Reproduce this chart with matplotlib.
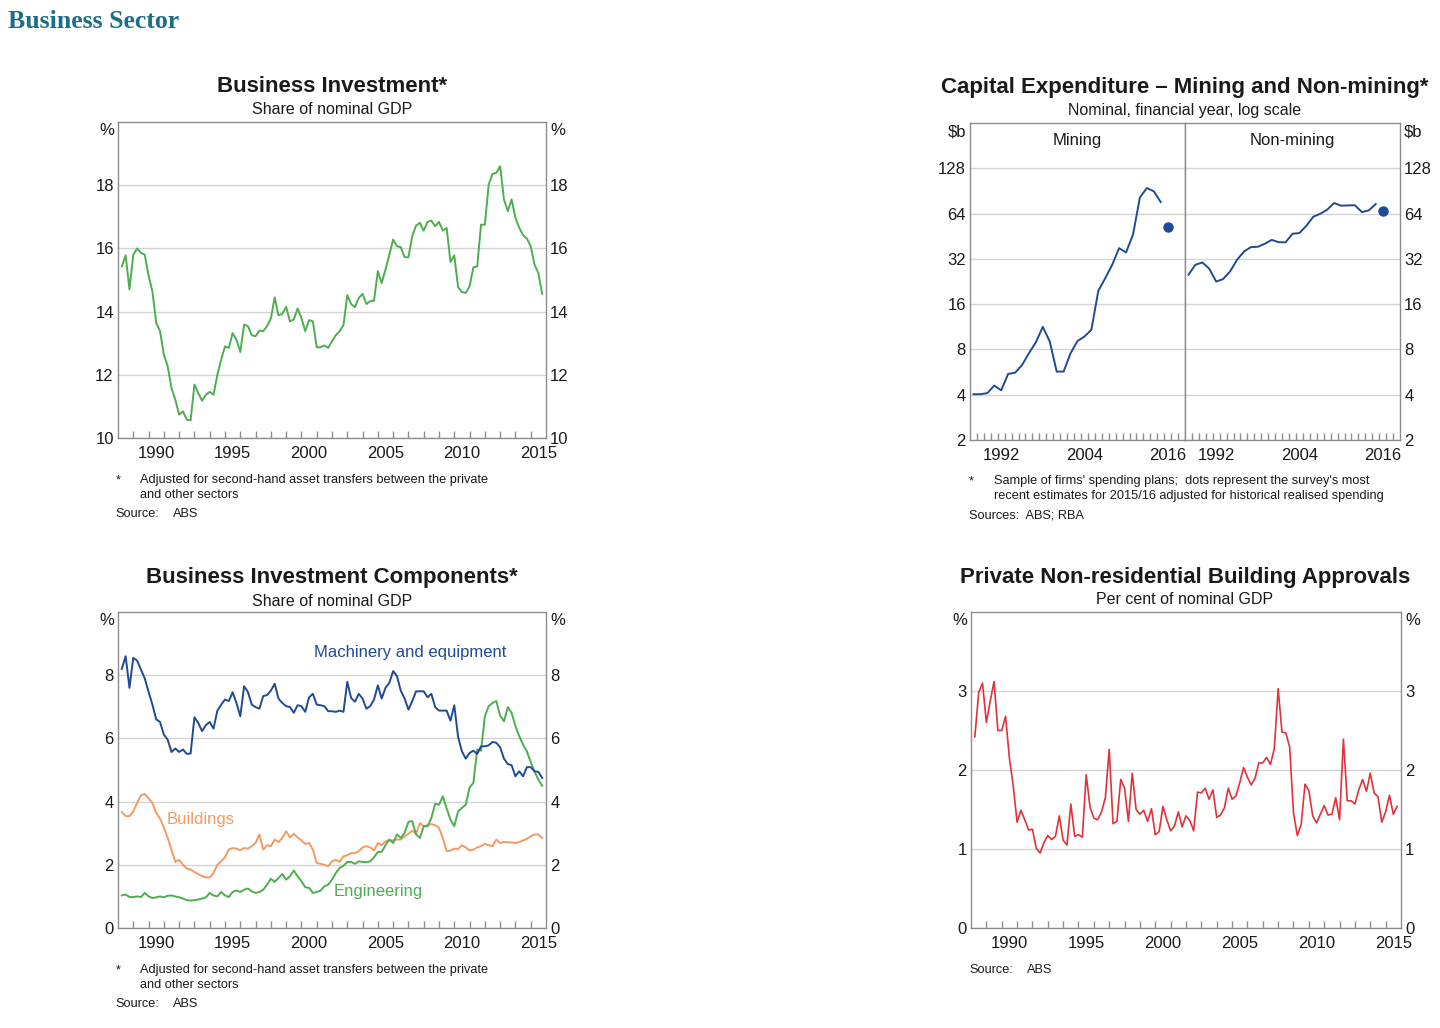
import numpy as np
import pandas as pd
import matplotlib
matplotlib.use("Agg")
import matplotlib.pyplot as plt
from matplotlib.ticker import FixedLocator, NullFormatter

plt.rcParams['font.family'] = ['Liberation Sans', 'DejaVu Sans']

# quarterly series, 1988Q1 - 2015Q3
quarters = pd.period_range('1988Q1', '2015Q3', freq='Q')

invest_share = [15.43, 15.78, 14.7, 15.8, 16.0, 15.86, 15.8, 15.14, 14.64, 13.64,
                13.38, 12.64, 12.27, 11.58, 11.21, 10.74, 10.84, 10.58, 10.56, 11.69,
                11.42, 11.18, 11.37, 11.46, 11.37, 12.0, 12.48, 12.9, 12.85, 13.32,
                13.11, 12.72, 13.59, 13.54, 13.25, 13.22, 13.4, 13.38, 13.54, 13.78,
                14.45, 13.88, 13.93, 14.15, 13.69, 13.75, 14.1, 13.8, 13.38, 13.73,
                13.69, 12.87, 12.87, 12.93, 12.85, 13.06, 13.25, 13.38, 13.57, 14.52,
                14.24, 14.14, 14.43, 14.56, 14.24, 14.33, 14.35, 15.28, 14.9, 15.33,
                15.8, 16.28, 16.07, 16.04, 15.72, 15.72, 16.39, 16.72, 16.81, 16.56,
                16.84, 16.88, 16.7, 16.84, 16.56, 16.65, 15.57, 15.78, 14.77, 14.62,
                14.59, 14.8, 15.4, 15.43, 16.75, 16.75, 18.02, 18.36, 18.39, 18.6,
                17.55, 17.18, 17.55, 16.97, 16.65, 16.42, 16.31, 16.07, 15.49, 15.22,
                14.56]

machinery = [8.2, 8.6, 7.6, 8.55, 8.46, 8.18, 7.9, 7.47, 7.07, 6.6,
             6.52, 6.12, 5.96, 5.57, 5.68, 5.57, 5.65, 5.51, 5.52, 6.67,
             6.49, 6.23, 6.42, 6.52, 6.31, 6.88, 7.07, 7.23, 7.18, 7.46,
             7.12, 6.7, 7.65, 7.47, 7.07, 6.99, 6.94, 7.34, 7.37, 7.51,
             7.73, 7.26, 7.12, 7.02, 6.99, 6.81, 7.05, 7.02, 6.84, 7.3,
             7.41, 7.07, 7.05, 7.02, 6.86, 6.86, 6.84, 6.88, 6.84, 7.79,
             7.28, 7.16, 7.41, 7.26, 6.94, 7.02, 7.23, 7.68, 7.26, 7.6,
             7.76, 8.13, 7.97, 7.51, 7.26, 6.91, 7.18, 7.49, 7.49, 7.49,
             7.3, 7.41, 6.99, 6.88, 6.88, 6.88, 6.56, 7.05, 6.04, 5.59,
             5.36, 5.54, 5.61, 5.51, 5.75, 5.75, 5.78, 5.89, 5.86, 5.72,
             5.36, 5.19, 5.15, 4.8, 4.96, 4.8, 5.09, 5.09, 4.96, 4.94,
             4.75]

buildings = [3.67, 3.54, 3.54, 3.69, 3.96, 4.2, 4.24, 4.1, 3.96, 3.64,
             3.46, 3.19, 2.85, 2.48, 2.09, 2.16, 2.0, 1.88, 1.85, 1.77,
             1.71, 1.64, 1.6, 1.6, 1.74, 2.0, 2.11, 2.24, 2.48, 2.53,
             2.51, 2.46, 2.53, 2.51, 2.59, 2.69, 2.96, 2.48, 2.62, 2.59,
             2.8, 2.72, 2.85, 3.06, 2.87, 2.98, 2.87, 2.77, 2.66, 2.69,
             2.48, 2.06, 2.03, 2.0, 1.95, 2.11, 2.16, 2.09, 2.27, 2.3,
             2.37, 2.37, 2.43, 2.55, 2.59, 2.55, 2.45, 2.69, 2.62, 2.74,
             2.78, 2.77, 2.8, 2.8, 2.9, 2.98, 3.08, 2.98, 3.32, 3.22,
             3.25, 3.29, 3.25, 3.17, 2.85, 2.43, 2.45, 2.51, 2.5, 2.62,
             2.55, 2.45, 2.48, 2.55, 2.59, 2.66, 2.62, 2.59, 2.8, 2.69,
             2.72, 2.71, 2.71, 2.69, 2.72, 2.77, 2.82, 2.9, 2.96, 2.96,
             2.85]

engineering = [1.03, 1.06, 0.98, 0.98, 1.0, 0.98, 1.11, 1.0, 0.95, 0.97,
               1.0, 0.97, 1.02, 1.03, 1.0, 0.97, 0.93, 0.88, 0.87, 0.88,
               0.9, 0.93, 0.97, 1.11, 1.03, 1.0, 1.14, 1.03, 0.98, 1.14,
               1.19, 1.14, 1.21, 1.25, 1.16, 1.11, 1.14, 1.21, 1.37, 1.56,
               1.46, 1.58, 1.71, 1.53, 1.64, 1.82, 1.64, 1.48, 1.29, 1.27,
               1.11, 1.14, 1.18, 1.32, 1.37, 1.53, 1.74, 1.9, 1.97, 2.09,
               2.09, 2.03, 2.11, 2.09, 2.08, 2.11, 2.24, 2.41, 2.41, 2.62,
               2.8, 2.69, 2.96, 2.85, 3.01, 3.36, 3.38, 2.96, 2.85, 3.22,
               3.22, 3.48, 3.93, 3.9, 4.17, 3.78, 3.43, 3.22, 3.69, 3.8,
               3.9, 4.45, 4.59, 5.65, 5.61, 6.7, 7.02, 7.12, 7.18, 6.72,
               6.54, 6.99, 6.81, 6.39, 6.07, 5.8, 5.59, 5.25, 4.95, 4.7,
               4.5]

approvals = [2.42, 2.98, 3.1, 2.6, 2.87, 3.12, 2.5, 2.5, 2.68, 2.15,
             1.8, 1.34, 1.49, 1.37, 1.24, 1.25, 1.01, 0.95, 1.08, 1.17,
             1.12, 1.16, 1.42, 1.11, 1.05, 1.57, 1.16, 1.18, 1.15, 1.94,
             1.53, 1.39, 1.37, 1.47, 1.65, 2.26, 1.32, 1.35, 1.88, 1.77,
             1.35, 1.96, 1.5, 1.44, 1.49, 1.35, 1.51, 1.18, 1.22, 1.54,
             1.37, 1.23, 1.29, 1.47, 1.28, 1.42, 1.36, 1.23, 1.72, 1.71,
             1.77, 1.63, 1.75, 1.4, 1.43, 1.52, 1.77, 1.63, 1.67, 1.84,
             2.03, 1.91, 1.81, 1.9, 2.09, 2.09, 2.16, 2.07, 2.27, 3.03,
             2.48, 2.47, 2.29, 1.46, 1.17, 1.31, 1.82, 1.74, 1.42, 1.33,
             1.44, 1.55, 1.43, 1.44, 1.65, 1.37, 2.39, 1.61, 1.61, 1.57,
             1.75, 1.88, 1.73, 1.96, 1.71, 1.66, 1.34, 1.47, 1.68, 1.44,
             1.54]

# financial years 1987/88 - 2014/15, estimate for 2015/16
fin_years = list(range(1988, 2016))
mining = [4.03, 4.03, 4.1, 4.6, 4.28, 5.5, 5.6, 6.3, 7.55, 8.93, 11.3, 9.03, 5.7, 5.7,
          7.55, 9.1, 9.75, 10.8, 19.6, 23.8, 29.2, 37.7, 35.3, 46.3, 82, 94.6, 90, 76.3]
non_mining = [25.1, 29.2, 30.3, 27.5, 22.6, 23.5, 26.4, 31.5, 35.8, 38.3, 38.5, 40.3, 42.8, 41.3,
              41.2, 47, 47.5, 53.1, 61, 63.8, 67.9, 75.2, 72.2, 72.5, 72.7, 65.5, 67.2, 74]
est_year = 2016
mining_est = 52.3
non_mining_est = 66.5

GREEN = '#4DAE50'
BLUE = '#1F4A96'
ORANGE = '#F29A62'
RED = '#E0323A'
SPINE = '#8C8C8C'
GRID = '#D4D4D4'
TXT = '#1A1A1A'
TICK_FS = 12

W, H = 1440, 1028
fig = plt.figure(figsize=(W / 100, H / 100), dpi=100)


def px_axes(l, t, r, b):
    return fig.add_axes([l / W, 1 - b / H, (r - l) / W, (b - t) / H])


def ftext(x, y, s, **kw):
    fig.text(x / W, 1 - y / H, s, **kw)


def style(ax, yticks, unit, left=True, right=True):
    for sp in ax.spines.values():
        sp.set_color(SPINE)
        sp.set_linewidth(1.0)
    ax.set_yticks(yticks)
    ax.set_yticklabels([str(v) for v in yticks])
    ax.tick_params(axis='y', length=0, pad=3, labelsize=TICK_FS, labelcolor=TXT,
                   left=False, right=False, labelleft=left, labelright=right)
    ax.yaxis.grid(True, color=GRID, lw=1.0)
    ax.set_axisbelow(True)
    # unit label sits where the top tick label would be
    if left:
        ax.annotate(unit, xy=(0, 1), xycoords='axes fraction', xytext=(-3, -1),
                    textcoords='offset points', ha='right', va='top',
                    fontsize=TICK_FS, color=TXT)
    if right:
        ax.annotate(unit, xy=(1, 1), xycoords='axes fraction', xytext=(3, -1),
                    textcoords='offset points', ha='left', va='top',
                    fontsize=TICK_FS, color=TXT)


def year_axis(ax, x0, x1, labels, minor):
    ax.set_xlim(x0, x1)
    ax.xaxis.set_major_locator(FixedLocator(labels))
    ax.xaxis.set_minor_locator(FixedLocator(minor))
    ax.xaxis.set_minor_formatter(NullFormatter())
    ax.tick_params(axis='x', which='major', length=0, pad=6, labelsize=TICK_FS, labelcolor=TXT)
    ax.tick_params(axis='x', which='minor', direction='in', length=5, width=1, color=SPINE)


def quarterly_axis(ax):
    years = [1990, 1995, 2000, 2005, 2010, 2015]
    year_axis(ax, 1988, 2016, [y + 0.5 for y in years], list(range(1989, 2016)))
    ax.set_xticklabels([str(y) for y in years])


tq = np.array([p.year + p.quarter / 4 for p in quarters])

# ---- Business Investment
ax1 = px_axes(118, 122, 546, 438)
ax1.plot(tq, invest_share, color=GREEN, lw=1.4)
ax1.set_ylim(10, 20)
style(ax1, [10, 12, 14, 16, 18], '%')
quarterly_axis(ax1)

# ---- Business Investment Components
ax3 = px_axes(118, 612, 546, 928)
ax3.plot(tq, buildings, color=ORANGE, lw=1.4)
ax3.plot(tq, engineering, color=GREEN, lw=1.4)
ax3.plot(tq, machinery, color=BLUE, lw=1.4)
ax3.set_ylim(0, 10)
style(ax3, [0, 2, 4, 6, 8], '%')
quarterly_axis(ax3)
ax3.text(2000.8, 8.73, 'Machinery and equipment', color=BLUE, fontsize=TICK_FS, va='center')
ax3.text(1991.2, 3.42, 'Buildings', color=ORANGE, fontsize=TICK_FS, va='center')
ax3.text(2002.1, 1.14, 'Engineering', color=GREEN, fontsize=TICK_FS, va='center')

# ---- Building approvals
ax4 = px_axes(971, 612, 1401, 928)
ax4.plot(tq, approvals, color=RED, lw=1.2)
ax4.set_ylim(0, 4)
style(ax4, [0, 1, 2, 3], '%')
quarterly_axis(ax4)

# ---- Capex, mining / non-mining
log_ticks = [2, 4, 8, 16, 32, 64, 128]
ax2a = px_axes(970, 123, 1185, 440)
ax2b = px_axes(1185, 123, 1400, 440)
for ax, vals, est, name, left in [(ax2a, mining, mining_est, 'Mining', True),
                                  (ax2b, non_mining, non_mining_est, 'Non-mining', False)]:
    ax.plot(fin_years, vals, color=BLUE, lw=1.4)
    ax.plot([est_year], [est], 'o', color=BLUE, ms=6.5)
    ax.set_yscale('log', base=2)
    ax.set_ylim(2, 256)
    ax.yaxis.set_minor_locator(FixedLocator([]))
    style(ax, log_ticks, '$b', left=left, right=not left)
    ax.yaxis.set_major_locator(FixedLocator(log_ticks))
    ax.set_yticklabels([str(v) for v in log_ticks])
    year_axis(ax, 1987.5, 2018.5, [1992, 2004, 2016], [y + 0.5 for y in range(1988, 2018)])
    ax.set_xticklabels(['1992', '2004', '2016'])
    ax.text(0.5, 0.97, name, transform=ax.transAxes, ha='center', va='top',
            fontsize=TICK_FS, color=TXT)

# ---- titles
ftext(8, 22, 'Business Sector', fontsize=18.5, color='#1B6E88', fontweight='bold',
      family=['Liberation Serif', 'DejaVu Serif'], va='center')

for x, y, title, sub in [(332, 87, 'Business Investment*', 'Share of nominal GDP'),
                         (1185, 87, 'Capital Expenditure – Mining and Non-mining*',
                          'Nominal, financial year, log scale'),
                         (332, 578, 'Business Investment Components*', 'Share of nominal GDP'),
                         (1185, 577, 'Private Non-residential Building Approvals',
                          'Per cent of nominal GDP')]:
    ftext(x, y, title, fontsize=16, fontweight='bold', ha='center', va='center', color=TXT)
    ftext(x, y + 23, sub, fontsize=11.5, ha='center', va='center', color=TXT)

# ---- notes
note_kw = dict(fontsize=9.2, color=TXT, va='center')
adjusted = ['Adjusted for second-hand asset transfers between the private', 'and other sectors']
for y0 in (480, 970):
    ftext(116, y0, '*', **note_kw)
    ftext(140, y0, adjusted[0], **note_kw)
    ftext(140, y0 + 15, adjusted[1], **note_kw)
    ftext(115, y0 + 34, 'Source:', **note_kw)
    ftext(173, y0 + 34, 'ABS', **note_kw)

ftext(969, 481, '*', **note_kw)
ftext(994, 481, "Sample of firms' spending plans;  dots represent the survey's most", **note_kw)
ftext(994, 496, 'recent estimates for 2015/16 adjusted for historical realised spending', **note_kw)
ftext(969, 516, 'Sources:  ABS; RBA', **note_kw)
ftext(969, 970, 'Source:', **note_kw)
ftext(1027, 970, 'ABS', **note_kw)

fig.savefig('out.png', dpi=100)
